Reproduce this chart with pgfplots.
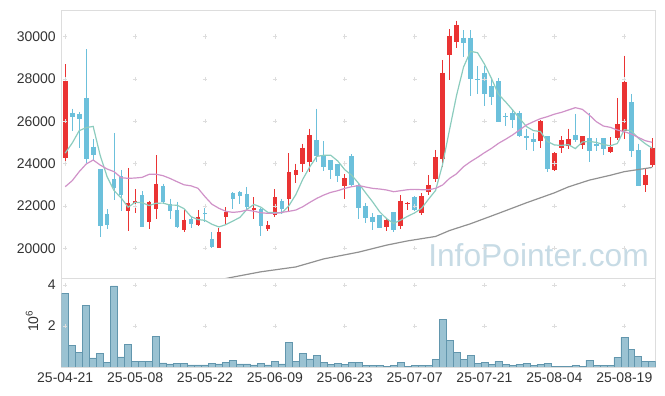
\documentclass[border=0pt]{standalone}
\usepackage{fontspec}
\setmainfont{Liberation Sans}
\usepackage{pgfplots}
\pgfplotsset{compat=1.18}
\usepackage{pgfplotstable}
\definecolor{cred}{RGB}{234,51,51}
\definecolor{cblue}{RGB}{108,192,219}
\definecolor{ma5}{RGB}{140,204,190}
\definecolor{ma20}{RGB}{208,146,200}
\definecolor{ma60}{RGB}{145,145,145}
\definecolor{vfill}{RGB}{154,194,210}
\definecolor{vedge}{RGB}{98,150,173}
\definecolor{frm}{RGB}{221,221,221}
\definecolor{txt}{RGB}{51,51,51}
\definecolor{wm}{RGB}{199,219,229}

\pgfplotstableread{
i o h l c
0 24250 28700 23900 27900
9 21750 23800 20800 22150
10 22150 22800 21650 22250
12 21250 22250 20900 22200
13 21850 24400 21400 23050
17 20850 21850 20750 21350
19 21100 21800 21050 21500
22 20000 20950 20000 20750
23 21500 21950 21150 21700
27 21800 22400 21400 21900
29 20900 21300 20800 21100
30 21550 22800 21500 22400
32 22350 24500 21750 23600
33 23450 24000 23100 23700
34 24000 24950 23600 24750
35 24100 25650 23600 25350
40 22950 23500 22350 23300
46 21000 21450 20800 21350
48 21050 22500 20900 22250
49 22100 22200 21800 22150
51 21650 22600 21550 22450
52 22650 23450 22500 23000
53 23250 24650 23150 24300
54 24200 28900 23850 28300
55 29150 30350 27950 30050
56 29750 30750 29450 30550
68 25050 26050 24750 26000
70 23700 24550 23650 24500
71 24750 25300 24500 25100
72 24850 25650 24700 25150
74 24900 25300 24700 25300
78 24550 25250 24500 24800
79 25200 27100 25100 25850
80 25550 29100 25150 27850
83 23000 23750 22650 23450
84 23950 25200 23850 24750
}\up

\pgfplotstableread{
i o h l c
1 26400 26600 25550 26200
2 26350 26450 24750 26100
3 27100 29400 24050 24200
4 24800 25150 24150 24400
5 23750 23750 20550 21050
6 21600 21850 20900 21100
7 23250 25450 22300 22850
8 23400 23700 21750 22500
11 22500 22700 21000 21000
14 22950 23050 22100 22200
15 22100 22350 21400 21750
16 21800 22200 20950 21000
18 21400 21500 20950 21150
20 21650 21900 21250 21600
21 20450 20750 20000 20050
24 22600 22650 21850 22350
25 22650 22700 22100 22450
26 22550 22900 21800 21950
28 21850 21900 20600 21050
31 22250 22350 21600 21850
36 25100 26600 24100 24350
37 24400 25050 23650 23850
38 24150 24150 23250 23700
39 24000 24000 23150 23400
41 24350 24450 22900 23000
42 23000 23050 21400 21900
43 22000 22150 21200 21450
44 21500 21650 20850 21250
45 21550 21550 20950 20950
47 21700 21700 20750 20850
50 22400 22450 21750 21800
57 29950 30300 29050 29700
58 29950 30300 27200 28000
59 28000 28600 27300 27950
60 28300 28600 26700 27300
61 27650 28050 26750 27150
62 27900 28050 25950 25950
63 26250 26400 25800 26200
64 26400 26550 25700 26050
65 26400 26500 25250 25300
66 25300 25650 24650 25200
67 25150 25450 24600 25000
69 25300 25300 23600 23750
73 25350 26350 25000 25100
75 25200 26400 24100 24600
76 24950 25200 24600 24850
77 25200 25200 24400 24700
81 26900 27300 24300 24600
82 24650 24950 22950 22950
}\down

\begin{document}
\begin{tikzpicture}
\useasboundingbox (0,0) rectangle (498.75pt,297pt);
\node[anchor=base west, font=\fontsize{23.8}{24}\selectfont, text=wm, inner sep=0pt] at (321pt,97pt) {InfoPointer.com};

\begin{axis}[at={(46.3pt,88.5pt)}, anchor=south west, scale only axis,
  width=445.5pt, height=201pt,
  xmin=-0.5, xmax=84.5, ymin=18597, ymax=31257,
  xtick={0,10,...,80}, xticklabels={},
  ytick={20000,22000,...,30000},
  scaled y ticks=false,
  axis line style={frm}, major tick length=0pt,
  tick label style={font=\fontsize{10.5}{12}\selectfont, text=txt},
  yticklabel style={inner sep=0pt, xshift=-4.3pt},
  /pgf/number format/1000 sep={},
  /pgf/number format/assume math mode=true]
\addplot[forget plot, only marks, mark=+, mark size=1.6pt, color=frm, mark options={line width=0.5pt}] coordinates {
(0,20000)(10,20000)(20,20000)(30,20000)(40,20000)(50,20000)(60,20000)(70,20000)(80,20000)
(0,22000)(10,22000)(20,22000)(30,22000)(40,22000)(50,22000)(60,22000)(70,22000)(80,22000)
(0,24000)(10,24000)(20,24000)(30,24000)(40,24000)(50,24000)(60,24000)(70,24000)(80,24000)
(0,26000)(10,26000)(20,26000)(30,26000)(40,26000)(50,26000)(60,26000)(70,26000)(80,26000)
(0,28000)(10,28000)(20,28000)(30,28000)(40,28000)(50,28000)(60,28000)(70,28000)(80,28000)
(0,30000)(10,30000)(20,30000)(30,30000)(40,30000)(50,30000)(60,30000)(70,30000)(80,30000)};
% wicks
\addplot[forget plot, draw=none, mark=none, error bars/.cd, y dir=minus, y explicit, error mark=none,
  error bar style={line width=0.75pt, draw=cred, solid}]
  table[x=i, y=h, y error minus expr=\thisrow{h}-\thisrow{l}] {\up};
\addplot[forget plot, draw=none, mark=none, error bars/.cd, y dir=minus, y explicit, error mark=none,
  error bar style={line width=0.75pt, draw=cblue, solid}]
  table[x=i, y=h, y error minus expr=\thisrow{h}-\thisrow{l}] {\down};
% bodies
\addplot[forget plot, draw=none, mark=none, error bars/.cd, y dir=minus, y explicit, error mark=none,
  error bar style={line width=3.5pt, draw=cred, solid}]
  table[x=i, y=c, y error minus expr=\thisrow{c}-\thisrow{o}] {\up};
\addplot[forget plot, draw=none, mark=none, error bars/.cd, y dir=minus, y explicit, error mark=none,
  error bar style={line width=3.5pt, draw=cblue, solid}]
  table[x=i, y=o, y error minus expr=\thisrow{o}-\thisrow{c}] {\down};
% MA5
\addplot[ma5, line width=0.9pt, mark=none] coordinates {
(0,24497)(1,24970)(2,25555)(3,25700)(4,25758)(5,24391)(6,23373)(7,22721)(8,22381)(9,21940)
(10,22173)(11,22154)(12,22019)(13,22129)(14,22135)(15,22041)(16,22037)(17,21874)(18,21496)(19,21357)
(20,21320)(21,21134)(22,21008)(23,21121)(24,21288)(25,21461)(26,21839)(27,22072)(28,21943)(29,21694)
(30,21691)(31,21669)(32,22009)(33,22535)(34,23263)(35,23849)(36,24343)(37,24394)(38,24394)(39,24123)
(40,23714)(41,23449)(42,23062)(43,22614)(44,22189)(45,21723)(46,21395)(47,21178)(48,21332)(49,21512)
(50,21672)(51,21893)(52,22324)(53,22734)(54,23959)(55,25610)(56,27226)(57,28564)(58,29305)(59,29239)
(60,28697)(61,28020)(62,27273)(63,26923)(64,26545)(65,26145)(66,25751)(67,25559)(68,25515)(69,25049)
(70,24882)(71,24860)(72,24895)(73,24709)(74,25024)(75,25049)(76,25002)(77,24904)(78,24844)(79,24948)
(80,25600)(81,25553)(82,25206)(83,24942)(84,24728)};
% MA20
\addplot[ma20, line width=0.9pt, mark=none] coordinates {
(0,22910)(1,23194)(2,23619)(3,23981)(4,24170)(5,23934)(6,23745)(7,23619)(8,23336)(9,23304)
(10,23320)(11,23351)(12,23493)(13,23500)(14,23430)(15,23300)(16,23146)(17,23000)(18,22950)(19,22834)
(20,22438)(21,22080)(22,21888)(23,21745)(24,21697)(25,21729)(26,21808)(27,21750)(28,21682)(29,21650)
(30,21650)(31,21697)(32,21745)(33,21808)(34,21965)(35,22170)(36,22359)(37,22516)(38,22642)(39,22721)
(40,22831)(41,22910)(42,22965)(43,22894)(44,22831)(45,22800)(46,22753)(47,22674)(48,22721)(49,22768)
(50,22784)(51,22768)(52,22768)(53,22831)(54,22989)(55,23304)(56,23520)(57,23855)(58,24091)(59,24296)
(60,24517)(61,24721)(62,24958)(63,25147)(64,25351)(65,25588)(66,25824)(67,25981)(68,26123)(69,26218)
(70,26336)(71,26422)(72,26533)(73,26643)(74,26564)(75,26296)(76,25981)(77,25777)(78,25714)(79,25588)
(80,25509)(81,25398)(82,25241)(83,25084)(84,25005)};
% MA60
\addplot[ma60, line width=0.9pt, mark=none] coordinates {
(20,18370)(24,18640)(28,18890)(33,19120)(37,19500)(42,19820)(46,20150)(49,20350)(53,20560)(55,20840)
(58,21160)(62,21650)(66,22150)(70,22620)(72,22900)(75,23220)(78,23450)(80,23620)(82,23720)(84,23820)};
\end{axis}

\begin{axis}[at={(46.3pt,21.75pt)}, anchor=south west, scale only axis,
  width=445.5pt, height=66.75pt,
  xmin=-0.5, xmax=84.5, ymin=0, ymax=4.34,
  xtick={0,10,...,80},
  xticklabels={25-04-21,25-05-08,25-05-22,25-06-09,25-06-23,25-07-07,25-07-21,25-08-04,25-08-19},
  ytick={2,4},
  axis line style={frm}, major tick length=0pt,
  tick label style={font=\fontsize{10.5}{12}\selectfont, text=txt},
  yticklabel style={inner sep=0pt, xshift=-4.3pt},
  xticklabel style={inner sep=0pt, yshift=-3.8pt},
  /pgf/number format/assume math mode=true]
\addplot[forget plot, only marks, mark=+, mark size=1.6pt, color=frm, mark options={line width=0.5pt}] coordinates {
(0,2)(10,2)(20,2)(30,2)(40,2)(50,2)(60,2)(70,2)(80,2)
(0,4)(10,4)(20,4)(30,4)(40,4)(50,4)(60,4)(70,4)(80,4)};
\addplot[ybar, bar width=1, fill=vfill, draw=vedge, line width=0.4pt] coordinates {
(0,3.59)(1,1.06)(2,0.72)(3,3.02)(4,0.44)(5,0.68)(6,0.24)(7,3.95)(8,0.49)(9,1.12)
(10,0.29)(11,0.29)(12,0.29)(13,1.50)(14,0.20)(15,0.15)(16,0.18)(17,0.18)(18,0.10)(19,0.10)
(20,0.10)(21,0.18)(22,0.15)(23,0.24)(24,0.33)(25,0.15)(26,0.15)(27,0.10)(28,0.18)(29,0.10)
(30,0.29)(31,0.15)(32,1.20)(33,0.29)(34,0.68)(35,0.39)(36,0.57)(37,0.24)(38,0.14)(39,0.18)
(40,0.13)(41,0.23)(42,0.23)(43,0.08)(44,0.08)(45,0.08)(46,0.03)(47,0.08)(48,0.23)(49,0.03)
(50,0.08)(51,0.08)(52,0.08)(53,0.37)(54,2.33)(55,1.30)(56,0.72)(57,0.37)(58,0.57)(59,0.18)
(60,0.23)(61,0.13)(62,0.28)(63,0.13)(64,0.08)(65,0.13)(66,0.18)(67,0.08)(68,0.13)(69,0.18)
(70,0.03)(71,0.03)(72,0.03)(73,0.08)(74,0.03)(75,0.33)(76,0.08)(77,0.08)(78,0.08)(79,0.47)
(80,1.45)(81,0.86)(82,0.52)(83,0.28)(84,0.28)};
\end{axis}
\node[rotate=90, font=\fontsize{10.5}{12}\selectfont, text=txt] at (24pt,56.25pt) {10\textsuperscript{6}};
\end{tikzpicture}
\end{document}
